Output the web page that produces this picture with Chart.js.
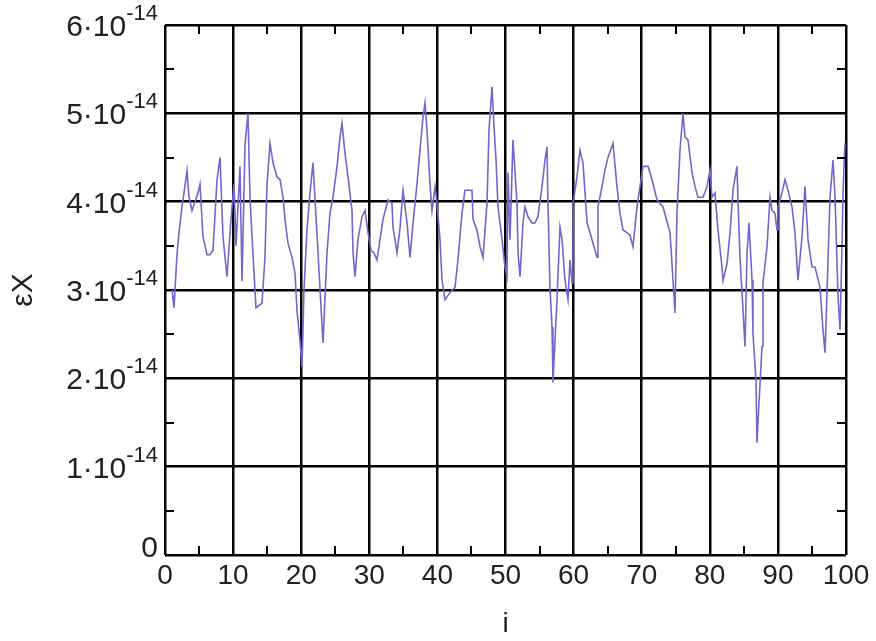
<!DOCTYPE html>
<html>
<head>
<meta charset="utf-8">
<script src="https://cdn.jsdelivr.net/npm/chart.js@4.4.1/dist/chart.umd.min.js"></script>
<style>
  html, body { margin: 0; padding: 0; background: #fff; }
  #wrap { width: 876px; height: 641px; position: relative; }
</style>
</head>
<body>
<div id="wrap"><canvas id="errChart"></canvas></div>
<script>
// sample index i
const iVals = [
  1.03, 1.32, 1.76, 2.06, 2.50, 2.79, 3.23, 3.52, 3.96, 4.41, 4.85, 5.14, 5.58, 6.17, 6.61, 7.05,
  7.64, 8.08, 8.52, 9.10, 9.69, 10.13, 10.43, 11.01, 11.31, 11.75, 12.19, 12.48, 12.92, 13.36, 14.24, 14.68,
  14.98, 15.42, 15.86, 16.45, 16.89, 17.33, 17.62, 18.06, 18.65, 19.09, 19.38, 19.82, 20.12, 20.41, 20.85, 21.29,
  21.73, 22.47, 23.20, 23.79, 24.23, 24.67, 25.26, 25.70, 25.99, 26.43, 26.87, 27.46, 27.61, 27.90, 28.34, 28.93,
  29.37, 29.81, 30.25, 30.69, 31.13, 31.57, 32.01, 32.75, 33.33, 33.48, 34.07, 34.51, 34.95, 35.54, 35.98, 36.42,
  37.00, 37.44, 37.89, 38.18, 38.47, 38.91, 39.21, 39.65, 39.94, 40.38, 40.68, 41.12, 41.85, 42.58, 43.02, 43.61,
  44.05, 45.08, 45.23, 45.81, 46.26, 46.70, 47.28, 47.58, 48.02, 48.31, 48.61, 48.90, 49.49, 49.93, 50.22, 50.37,
  50.66, 51.10, 51.69, 51.84, 52.13, 52.57, 52.86, 53.30, 53.89, 54.33, 54.77, 55.36, 55.80, 56.09, 56.24, 56.53,
  56.83, 56.97, 57.56, 58.00, 58.30, 58.74, 59.18, 59.47, 59.77, 59.91, 60.50, 60.94, 61.38, 61.97, 62.41, 62.85,
  63.44, 63.58, 64.17, 64.61, 65.05, 65.79, 66.37, 66.81, 67.25, 67.84, 68.28, 68.72, 69.31, 69.75, 70.19, 70.93,
  71.51, 72.25, 73.13, 74.16, 74.60, 74.89, 75.18, 75.62, 76.06, 76.36, 76.80, 77.39, 77.83, 78.27, 79.00, 79.59,
  80.03, 80.32, 80.76, 81.20, 81.79, 81.94, 82.53, 82.97, 83.41, 83.99, 84.14, 84.43, 84.88, 85.17, 85.46, 85.76,
  86.20, 86.34, 86.78, 86.93, 87.22, 87.67, 87.81, 88.40, 88.84, 89.13, 89.57, 89.87, 90.01, 90.60, 91.04, 91.48,
  92.07, 92.51, 92.95, 93.54, 93.98, 94.42, 95.01, 95.45, 96.18, 96.62, 96.92, 97.21, 97.65, 98.09, 98.39, 98.83,
  99.12, 99.41, 99.56, 99.85
];

// error epsilon_X, in units of 1e-14
const epsX = [
  3.00, 2.80, 3.40, 3.65, 3.95, 4.10, 4.35, 4.05, 3.90, 4.00, 4.10, 4.20, 3.60, 3.40, 3.40, 3.45,
  4.25, 4.50, 3.60, 3.15, 3.80, 4.20, 3.50, 4.40, 3.10, 4.65, 5.00, 4.05, 3.40, 2.80, 2.85, 3.37,
  4.20, 4.66, 4.44, 4.28, 4.25, 4.05, 3.80, 3.53, 3.37, 3.19, 2.77, 2.43, 2.13, 3.00, 3.68, 4.10,
  4.44, 3.42, 2.40, 3.42, 3.87, 4.05, 4.40, 4.73, 4.89, 4.55, 4.28, 3.90, 3.42, 3.15, 3.57, 3.83,
  3.90, 3.65, 3.45, 3.42, 3.34, 3.57, 3.80, 4.02, 3.98, 3.71, 3.42, 3.70, 4.13, 3.76, 3.37, 3.76,
  4.20, 4.58, 4.96, 5.12, 4.81, 4.20, 3.90, 4.17, 3.98, 3.57, 3.11, 2.89, 2.97, 3.03, 3.34, 3.87,
  4.13, 4.13, 3.80, 3.68, 3.49, 3.37, 3.98, 4.81, 5.30, 4.85, 4.47, 3.94, 3.57, 3.26, 3.15, 4.33,
  3.57, 4.70, 3.98, 3.42, 3.15, 3.76, 3.94, 3.83, 3.76, 3.76, 3.83, 4.17, 4.47, 4.62, 3.98, 3.03,
  2.58, 1.95, 2.89, 3.71, 3.57, 3.11, 2.89, 3.34, 3.08, 3.98, 4.28, 4.58, 4.44, 3.76, 3.65, 3.53,
  3.37, 3.94, 4.17, 4.36, 4.50, 4.66, 4.17, 3.87, 3.68, 3.65, 3.62, 3.49, 3.94, 4.17, 4.40, 4.40,
  4.25, 4.02, 3.94, 3.65, 3.11, 2.74, 3.87, 4.58, 5.00, 4.73, 4.70, 4.33, 4.17, 4.05, 4.05, 4.17,
  4.36, 4.05, 4.10, 3.68, 3.26, 3.11, 3.30, 3.65, 4.13, 4.40, 4.02, 3.37, 2.77, 2.36, 3.42, 3.76,
  3.11, 2.51, 1.98, 1.27, 1.72, 2.36, 3.08, 3.49, 4.05, 3.90, 3.87, 3.68, 3.94, 4.10, 4.25, 4.13,
  3.94, 3.65, 3.11, 3.60, 4.17, 3.57, 3.26, 3.26, 3.03, 2.55, 2.29, 2.97, 4.05, 4.47, 4.05, 2.92,
  2.55, 3.49, 4.10, 4.66
];

// y tick labels: mantissa · 10^exp
const yMantissas = [0, 1, 2, 3, 4, 5, 6];
const yExponent = '-14';
const xMinorTicks = [5, 15, 25, 35, 45, 55, 65, 75, 85, 95];
const yMinorTicks = [0.5, 1.5, 2.5, 3.5, 4.5, 5.5];

const FONT = '"Liberation Sans", Arial, sans-serif';

const points = iVals.map((x, k) => ({ x: x, y: epsX[k] }));

// inward minor ticks on all four sides plus the y labels with superscript exponent
const frameExtras = {
  id: 'frameExtras',
  afterDraw(chart) {
    const ctx = chart.ctx;
    const xs = chart.scales.x, ys = chart.scales.y;
    const a = chart.chartArea;
    const len = 9;
    ctx.save();
    ctx.strokeStyle = '#000';
    ctx.lineWidth = 2;
    ctx.beginPath();
    xMinorTicks.forEach(v => {
      const px = Math.round(xs.getPixelForValue(v));
      ctx.moveTo(px, a.bottom); ctx.lineTo(px, a.bottom - len);
      ctx.moveTo(px, a.top); ctx.lineTo(px, a.top + len);
    });
    yMinorTicks.forEach(v => {
      const py = Math.round(ys.getPixelForValue(v));
      ctx.moveTo(a.left, py); ctx.lineTo(a.left + len, py);
      ctx.moveTo(a.right, py); ctx.lineTo(a.right - len, py);
    });
    ctx.stroke();

    ctx.fillStyle = '#222';
    ctx.textBaseline = 'alphabetic';
    ctx.textAlign = 'right';
    const right = a.left - 7;
    yMantissas.forEach(m => {
      const py = ys.getPixelForValue(m);
      if (m === 0) {
        ctx.font = '30px ' + FONT;
        ctx.fillText('0', right, py + 2);
        return;
      }
      ctx.font = '22px ' + FONT;
      const supW = ctx.measureText(yExponent).width;
      ctx.fillText(yExponent, right, py - 5);
      ctx.font = '30px ' + FONT;
      ctx.fillText(m + '\u00B710', right - supW, py + 11);
    });
    ctx.restore();
  }
};

const ctx = document.getElementById('errChart');
new Chart(ctx, {
  type: 'line',
  data: {
    datasets: [{
      data: points,
      borderColor: 'rgb(120, 100, 204)',
      borderWidth: 1.6,
      pointRadius: 0,
      tension: 0,
      fill: false
    }]
  },
  options: {
    responsive: true,
    maintainAspectRatio: false,
    animation: false,
    layout: { padding: { left: 0, right: 30, top: 25, bottom: 0 } },
    plugins: { legend: { display: false }, tooltip: { enabled: false } },
    scales: {
      x: {
        type: 'linear',
        min: 0,
        max: 100,
        ticks: {
          stepSize: 10,
          color: '#222',
          padding: 4,
          maxRotation: 0,
          font: { family: FONT, size: 28 }
        },
        grid: { color: '#000', lineWidth: 2.5, drawTicks: false },
        border: { display: false },
        title: {
          display: true,
          text: 'i',
          color: '#222',
          font: { family: FONT, size: 28 },
          padding: { top: 0, bottom: 0 }
        },
        afterFit(s) { s.height = 86; }
      },
      y: {
        type: 'linear',
        min: 0,
        max: 6,
        ticks: { stepSize: 1, display: false },
        grid: { color: '#000', lineWidth: 2.5, drawTicks: false },
        border: { display: false },
        title: {
          display: true,
          text: 'εX',
          color: '#222',
          font: { family: FONT, size: 30 },
          padding: { top: 6, bottom: 0 }
        },
        afterFit(s) { s.width = 165; }
      }
    }
  },
  plugins: [frameExtras]
});
</script>
</body>
</html>
